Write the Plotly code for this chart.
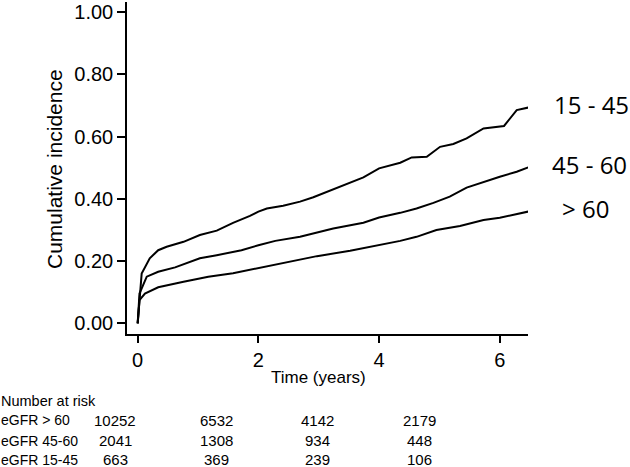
import plotly.graph_objects as go

# ---------------- data ----------------
t_1545 = [0, 0.066, 0.20, 0.34, 0.48, 0.76, 1.03, 1.31, 1.58, 1.86, 2.0, 2.14, 2.41, 2.69, 2.91,
          3.24, 3.52, 3.74, 4.0, 4.35, 4.54, 4.79, 5.01, 5.23, 5.45, 5.73, 6.07, 6.28, 6.47]
v_1545 = [0, 0.160, 0.209, 0.235, 0.246, 0.262, 0.284, 0.298, 0.323, 0.345, 0.359, 0.369, 0.378, 0.391, 0.405,
          0.430, 0.452, 0.469, 0.498, 0.516, 0.533, 0.535, 0.567, 0.576, 0.594, 0.626, 0.634, 0.685, 0.693]

t_4560 = [0, 0.03, 0.15, 0.34, 0.62, 1.03, 1.31, 1.72, 2.0, 2.28, 2.69, 3.24, 3.74, 4.0, 4.35,
          4.62, 4.90, 5.17, 5.45, 5.73, 6.0, 6.28, 6.47]
v_4560 = [0, 0.096, 0.150, 0.166, 0.180, 0.209, 0.219, 0.235, 0.251, 0.265, 0.278, 0.305, 0.323, 0.340, 0.355,
          0.369, 0.387, 0.407, 0.436, 0.455, 0.471, 0.487, 0.501]

t_gt60 = [0, 0.03, 0.12, 0.34, 0.76, 1.17, 1.58, 2.0, 2.41, 2.97, 3.52, 4.0, 4.35, 4.62, 4.95,
          5.34, 5.73, 6.0, 6.22, 6.47]
v_gt60 = [0, 0.075, 0.096, 0.116, 0.134, 0.150, 0.161, 0.177, 0.195, 0.216, 0.233, 0.251, 0.265, 0.278, 0.300,
          0.313, 0.332, 0.339, 0.348, 0.359]

curve_labels = ["15 - 45", "45 - 60", "> 60"]

risk_times = [0, 2, 4, 6]
risk_rows = ["eGFR > 60", "eGFR 45-60", "eGFR 15-45"]
risk_gt60 = [10252, 6532, 4142, 2179]
risk_4560 = [2041, 1308, 934, 448]
risk_1545 = [663, 369, 239, 106]

y_ticks = [0, 0.2, 0.4, 0.6, 0.8, 1.0]
x_ticks = [0, 2, 4, 6]

# ---------------- figure ----------------
W, H = 630, 467
ML, MR, MT, MB = 127, 102, 2, 133
PW, PH = W - ML - MR, H - MT - MB

def px2paper_x(px):
    return (px - ML) / PW

def py2paper_y(py):
    return (H - MB - py) / PH

# at-risk table column scale: pixel of time 0 and pixels per year
TAB_X0, TAB_DX = 115.0, 50.67

REG = "Liberation Sans, Arial, Helvetica, sans-serif"
HUMAN = "Open Sans, Noto Sans, sans-serif"

fig = go.Figure()
series = [(t_1545, v_1545), (t_4560, v_4560), (t_gt60, v_gt60)]
for (tt, vv), name in zip(series, curve_labels):
    fig.add_trace(go.Scatter(x=tt, y=vv, mode="lines", name=name,
                             line=dict(color="black", width=2), showlegend=False,
                             hoverinfo="skip"))

fig.update_layout(
    width=W, height=H,
    margin=dict(l=ML, r=MR, t=MT, b=MB),
    paper_bgcolor="white", plot_bgcolor="white",
    font=dict(family=REG, color="black"),
    xaxis=dict(range=[-0.177, 6.467], tickvals=x_ticks, ticktext=[str(v) for v in x_ticks],
               showline=True, linecolor="black", linewidth=1.5, ticks="outside",
               ticklen=7, tickwidth=1.5, tickcolor="black", showgrid=False, zeroline=False,
               tickfont=dict(family=REG, size=20, color="black")),
    yaxis=dict(range=[-0.034, 1.032], tickvals=y_ticks, tickformat=".2f",
               showline=True, linecolor="black", linewidth=1.5, ticks="outside",
               ticklen=8, tickwidth=1.5, tickcolor="black", showgrid=False, zeroline=False,
               tickfont=dict(family=REG, size=20, color="black")),
)

ann = []
# axis titles
ann.append(dict(text="Cumulative incidence", x=px2paper_x(54), y=py2paper_y(169), xref="paper", yref="paper",
                textangle=-90, showarrow=False, xanchor="center", yanchor="middle",
                font=dict(family=REG, size=21, color="black")))
ann.append(dict(text="Time (years)", x=px2paper_x(318), y=py2paper_y(377), xref="paper", yref="paper",
                showarrow=False, xanchor="center", yanchor="middle",
                font=dict(family=REG, size=17, color="black")))

# curve end labels (placed at the right edge, at each curve's last value)
shifts = [24, 22, 32]
for (tt, vv), lab, sh in zip(series, curve_labels, shifts):
    ann.append(dict(text=lab, x=1.0, y=vv[-1], xref="paper", yref="y", xanchor="left", yanchor="middle",
                    xshift=sh, yshift=3, showarrow=False, font=dict(family=HUMAN, size=24, color="black")))

# number at risk table
ann.append(dict(text="Number at risk", x=px2paper_x(0), y=py2paper_y(400.5), xref="paper", yref="paper",
                xanchor="left", yanchor="middle", showarrow=False, borderpad=0,
                font=dict(family=REG, size=14.5, color="black")))
row_y = [420.5, 440.5, 459.5]
for lab, vals, ry in zip(risk_rows, [risk_gt60, risk_4560, risk_1545], row_y):
    ann.append(dict(text=lab, x=px2paper_x(0), y=py2paper_y(ry), xref="paper", yref="paper",
                    xanchor="left", yanchor="middle", showarrow=False, borderpad=0,
                    font=dict(family=REG, size=14, color="black")))
    for tv, n in zip(risk_times, vals):
        ann.append(dict(text=str(n), x=px2paper_x(TAB_X0 + TAB_DX * tv), y=py2paper_y(ry),
                        xref="paper", yref="paper", borderpad=0,
                        xanchor="center", yanchor="middle", showarrow=False,
                        font=dict(family=REG, size=15, color="black")))

fig.update_layout(annotations=ann)
fig.write_html("out.html", config={"displayModeBar": False},
               post_script="document.body.style.margin='0px';document.body.style.padding='0px';")
